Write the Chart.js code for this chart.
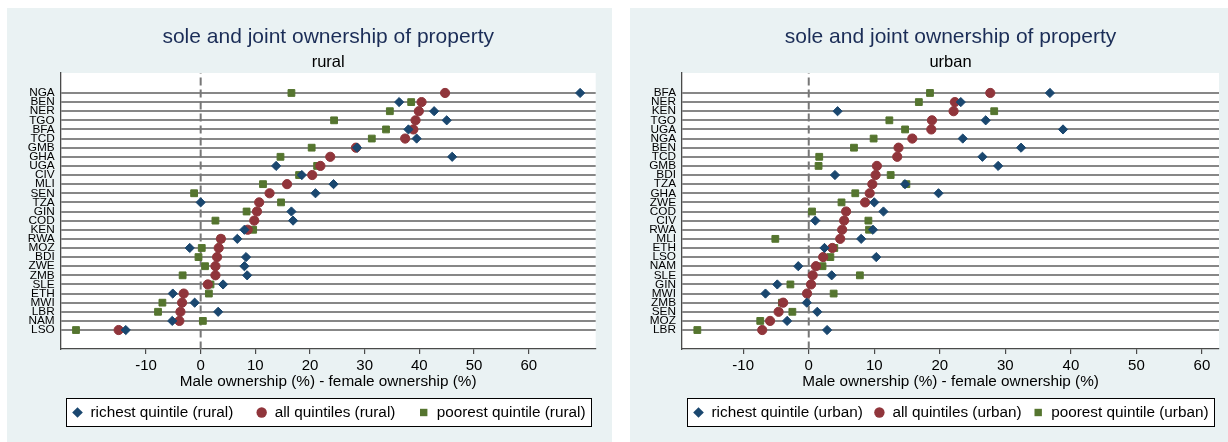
<!DOCTYPE html>
<html>
<head>
<meta charset="utf-8">
<title>sole and joint ownership of property</title>
<script src="https://cdn.jsdelivr.net/npm/chart.js@4.4.0/dist/chart.umd.min.js"></script>
<style>
  html, body { margin: 0; padding: 0; background: #ffffff; }
  .panel { position: absolute; top: 8px; height: 434px; background: #eaf2f3; }
  #panelRural { left: 7px; width: 605px; }
  #panelUrban { left: 630px; width: 598px; }
  canvas { display: block; }
</style>
</head>
<body>
<div class="panel" id="panelRural"><canvas id="chartRural" width="605" height="434"></canvas></div>
<div class="panel" id="panelUrban"><canvas id="chartUrban" width="598" height="434"></canvas></div>
<script>
// Gap between male and female property ownership (percentage points), by country

// Rural, sorted by the all-quintiles gap
const ruralCountries = ['NGA','BEN','NER','TGO','BFA','TCD','GMB','GHA','UGA','CIV','MLI','SEN','TZA','GIN','COD','KEN','RWA','MOZ','BDI','ZWE','ZMB','SLE','ETH','MWI','LBR','NAM','LSO'];
const ruralRichest = [69.4, 36.3, 42.7, 45.0, 38.0, 39.5, 28.6, 46.0, 13.8, 18.5, 24.3, 21.0, 0.0, 16.6, 16.9, 8.0, 6.7, -2.0, 8.3, 8.0, 8.5, 4.1, -5.1, -1.1, 3.2, -5.2, -13.7];
const ruralAll     = [44.7, 40.4, 39.9, 39.3, 38.9, 37.4, 28.4, 23.7, 21.9, 20.4, 15.8, 12.6, 10.7, 10.3, 9.8, 8.6, 3.7, 3.3, 3.0, 2.7, 2.7, 1.3, -3.1, -3.4, -3.7, -3.9, -15.0];
const ruralPoorest = [16.6, 38.5, 34.6, 24.4, 33.9, 31.3, 20.3, 14.6, 21.3, 18.0, 11.4, -1.2, 14.7, 8.4, 2.7, 9.6, 3.7, 0.2, -0.4, 0.8, -3.3, 1.8, 1.5, -7.0, -7.8, 0.4, -22.8];

// Urban, sorted by the all-quintiles gap
const urbanCountries = ['BFA','NER','KEN','TGO','UGA','NGA','BEN','TCD','GMB','BDI','TZA','GHA','ZWE','COD','CIV','RWA','MLI','ETH','LSO','NAM','SLE','GIN','MWI','ZMB','SEN','MOZ','LBR'];
const urbanRichest = [36.8, 23.2, 4.4, 27.0, 38.8, 23.5, 32.4, 26.5, 28.9, 4.0, 14.7, 19.8, 10.0, 11.4, 1.0, 9.8, 8.0, 2.4, 10.3, -1.6, 3.5, -4.8, -6.6, -0.3, 1.3, -3.3, 2.8];
const urbanAll     = [27.7, 22.3, 22.1, 18.8, 18.7, 15.8, 13.7, 13.5, 10.4, 10.2, 9.7, 9.3, 8.6, 5.7, 5.4, 5.1, 4.8, 3.6, 2.2, 1.1, 0.6, 0.35, -0.26, -3.9, -4.6, -5.9, -7.1];
const urbanPoorest = [18.5, 16.8, 28.3, 12.3, 14.7, 9.9, 6.9, 1.6, 1.5, 12.5, 14.9, 7.1, 5.0, 0.5, 9.1, 9.2, -5.1, 3.9, 3.3, 2.1, 7.8, -2.8, 3.8, -4.1, -2.5, -7.4, -17.0];

const xTickValues = [-10, 0, 10, 20, 30, 40, 50, 60];
const xAxisTitle = 'Male ownership (%) - female ownership (%)';
const chartTitle = 'sole and joint ownership of property';

const FONT = "'Liberation Sans', Arial, Helvetica, sans-serif";
const NAVY = '#1a476f';
const MAROON = '#90353b';
const GREEN = '#55752f';

function drawSymbol(ctx, style, x, y, color) {
  ctx.save();
  ctx.fillStyle = color;
  ctx.beginPath();
  if (style === 'rectRot') {
    const r = 5.3;
    ctx.moveTo(x - r, y); ctx.lineTo(x, y - r); ctx.lineTo(x + r, y); ctx.lineTo(x, y + r);
    ctx.closePath();
  } else if (style === 'circle') {
    ctx.arc(x, y, 5.2, 0, Math.PI * 2);
  } else {
    ctx.rect(x - 3.7, y - 3.7, 7.4, 7.4);
  }
  ctx.fill();
  ctx.restore();
}

// White plot region, dashed zero line, headings and boxed legend
const panelDecor = {
  id: 'panelDecor',
  beforeDraw(chart) {
    const { ctx, chartArea: a } = chart;
    ctx.save();
    ctx.fillStyle = '#ffffff';
    ctx.fillRect(a.left, a.top, a.right - a.left, a.bottom - a.top);
    ctx.restore();
  },
  beforeDatasetsDraw(chart) {
    const { ctx, chartArea: a, scales: { x } } = chart;
    const px = x.getPixelForValue(0);
    ctx.save();
    ctx.strokeStyle = '#777777';
    ctx.lineWidth = 2;
    ctx.setLineDash([8, 4]);
    ctx.lineDashOffset = -4.5;
    ctx.beginPath();
    ctx.moveTo(px, a.top);
    ctx.lineTo(px, a.bottom);
    ctx.stroke();
    ctx.restore();
  },
  afterDraw(chart, args, opts) {
    const { ctx, chartArea: a } = chart;
    const cx = (a.left + a.right) / 2;
    ctx.save();
    ctx.textAlign = 'center';
    ctx.textBaseline = 'alphabetic';
    ctx.fillStyle = '#1b2d57';
    ctx.font = `21px ${FONT}`;
    ctx.fillText(opts.title, cx, 35.3);
    ctx.fillStyle = '#000000';
    ctx.font = `16.5px ${FONT}`;
    ctx.fillText(opts.subtitle, cx, 58.7);

    // legend box
    const boxL = Math.round(a.left + 5.3) + 0.5;
    const boxR = Math.round(a.right - 5) + 0.5;
    const boxT = 390.5, boxB = 418.5;
    ctx.fillStyle = '#ffffff';
    ctx.fillRect(boxL, boxT, boxR - boxL, boxB - boxT);
    ctx.strokeStyle = '#000000';
    ctx.lineWidth = 1;
    ctx.strokeRect(boxL, boxT, boxR - boxL, boxB - boxT);

    ctx.font = `15.3px ${FONT}`;
    ctx.textAlign = 'left';
    ctx.textBaseline = 'middle';
    const items = chart.data.datasets.map(ds => ({
      text: ds.label, style: ds.pointStyle, color: ds.backgroundColor,
      w: 18 + ctx.measureText(ds.label).width
    }));
    const pad = 6;
    const total = items.reduce((s, it) => s + it.w, 0);
    const gap = Math.max(4, (boxR - boxL - 2 * pad - total) / (items.length - 1));
    const cy = (boxT + boxB) / 2;
    let xPos = boxL + pad;
    items.forEach(it => {
      drawSymbol(ctx, it.style, xPos + 5, cy, it.color);
      ctx.fillStyle = '#000000';
      ctx.fillText(it.text, xPos + 18, cy + 0.5);
      xPos += it.w + gap;
    });
    ctx.restore();
  }
};

function buildPanel(canvasId, cfg) {
  const rows = cfg.countries;
  const toPoints = vals => vals.map((v, i) => ({ x: v, y: i }));
  const canvas = document.getElementById(canvasId);
  const W = canvas.width, H = canvas.height;
  const plotTop = 65, plotBottom = 341, xAxisHeight = 42.2;

  return new Chart(canvas, {
    type: 'scatter',
    data: {
      datasets: [
        { label: cfg.labels[0], data: toPoints(cfg.richest), pointStyle: 'rectRot', pointRadius: 4.6,
          backgroundColor: NAVY, borderColor: NAVY, borderWidth: 1 },
        { label: cfg.labels[1], data: toPoints(cfg.all), pointStyle: 'circle', pointRadius: 4.6,
          backgroundColor: MAROON, borderColor: MAROON, borderWidth: 1 },
        { label: cfg.labels[2], data: toPoints(cfg.poorest), pointStyle: 'rect', pointRadius: 4.8,
          backgroundColor: GREEN, borderColor: GREEN, borderWidth: 1 }
      ]
    },
    options: {
      responsive: false,
      animation: false,
      events: [],
      layout: {
        padding: { left: 0, top: plotTop, right: W - cfg.plotRight, bottom: H - plotBottom - xAxisHeight }
      },
      plugins: {
        legend: { display: false },
        tooltip: { enabled: false },
        title: { display: false },
        panelDecor: { title: chartTitle, subtitle: cfg.subtitle }
      },
      scales: {
        x: {
          type: 'linear',
          min: cfg.xMin, max: cfg.xMax,
          afterBuildTicks: s => { s.ticks = xTickValues.map(v => ({ value: v })); },
          afterFit: s => { s.height = xAxisHeight; },
          ticks: { autoSkip: false, maxRotation: 0, padding: 3, color: '#000000',
                   font: { family: FONT, size: 15 } },
          grid: { drawOnChartArea: false, drawTicks: true, tickLength: 5, color: '#4a4a4a', lineWidth: 1.2 },
          border: { display: true, color: '#4a4a4a', width: 1.3 },
          title: { display: true, text: xAxisTitle, color: '#000000',
                   font: { family: FONT, size: 15.3 }, padding: { top: 0, bottom: 0 } }
        },
        y: {
          type: 'linear',
          reverse: true,
          min: -2.19, max: 28.08,
          afterBuildTicks: s => { s.ticks = rows.map((c, i) => ({ value: i })); },
          afterFit: s => { s.width = cfg.plotLeft; },
          ticks: { autoSkip: false, padding: 6, color: '#000000',
                   font: { family: FONT, size: 11.8 },
                   callback: v => rows[Math.round(v)] },
          grid: { color: '#878787', lineWidth: 2, drawTicks: false },
          border: { display: true, color: '#4a4a4a', width: 1.3 }
        }
      }
    },
    plugins: [panelDecor]
  });
}

buildPanel('chartRural', {
  countries: ruralCountries, richest: ruralRichest, all: ruralAll, poorest: ruralPoorest,
  labels: ['richest quintile (rural)', 'all quintiles (rural)', 'poorest quintile (rural)'],
  subtitle: 'rural',
  xMin: -25.6, xMax: 72.25,
  plotLeft: 53.7, plotRight: 588.7
});

buildPanel('chartUrban', {
  countries: urbanCountries, richest: urbanRichest, all: urbanAll, poorest: urbanPoorest,
  labels: ['richest quintile (urban)', 'all quintiles (urban)', 'poorest quintile (urban)'],
  subtitle: 'urban',
  xMin: -19.34, xMax: 62.6,
  plotLeft: 52, plotRight: 589
});
</script>
</body>
</html>
